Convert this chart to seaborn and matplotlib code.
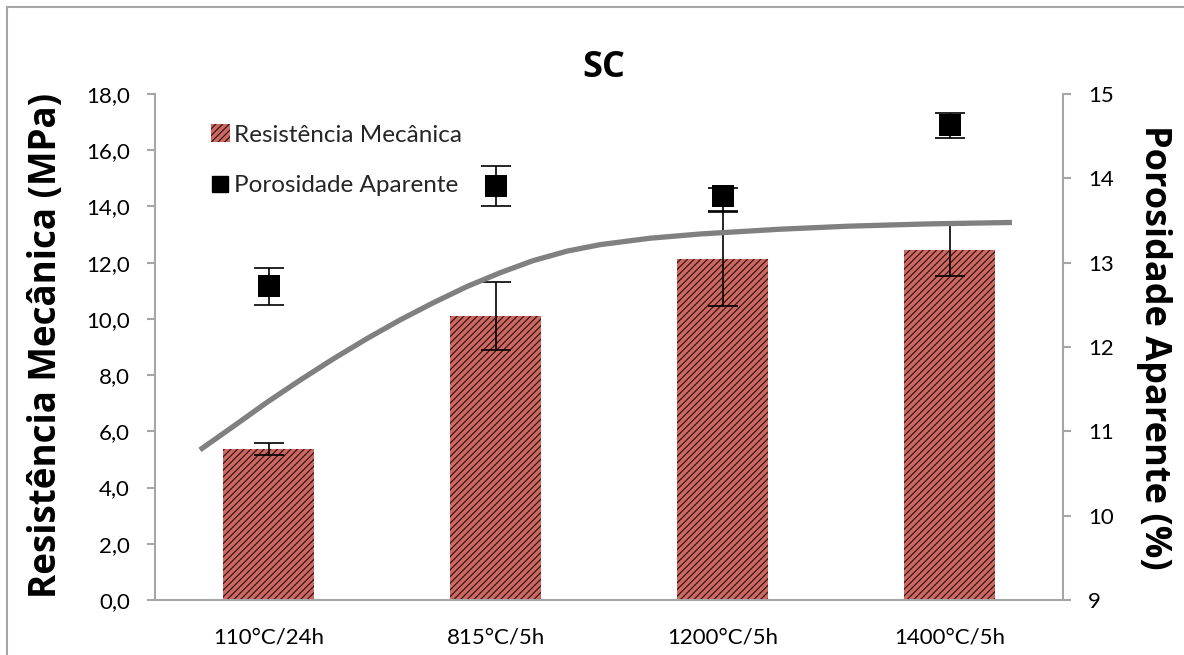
import matplotlib
matplotlib.use("Agg")
import matplotlib.pyplot as plt
from matplotlib.patches import Patch, Rectangle
from matplotlib.lines import Line2D
import seaborn as sns
import numpy as np

# ---- data -------------------------------------------------------------
categories = ["110°C/24h", "815°C/5h", "1200°C/5h", "1400°C/5h"]
resistencia = [5.38, 10.11, 12.14, 12.44]           # MPa
resistencia_err = [0.21, 1.20, 1.67, 0.90]
porosidade = [12.72, 13.91, 13.79, 14.63]           # %
porosidade_err_low = [0.22, 0.235, 0.18, 0.15]
porosidade_err_high = [0.22, 0.235, 0.10, 0.15]

# smoothed trend of the mechanical resistance (category position, MPa)
trend_x = [-0.302, -0.156, -0.007, 0.139, 0.284, 0.434, 0.579, 0.725, 0.874, 1.020,
           1.165, 1.315, 1.460, 1.681, 1.901, 2.253, 2.562, 2.914, 3.275]
trend_y = [5.34, 6.17, 7.03, 7.82, 8.57, 9.30, 9.96, 10.57, 11.15, 11.64,
           12.07, 12.41, 12.64, 12.87, 13.02, 13.19, 13.30, 13.38, 13.43]

left_ticks = [0, 2, 4, 6, 8, 10, 12, 14, 16, 18]
right_ticks = [9, 10, 11, 12, 13, 14, 15]

# ---- style ------------------------------------------------------------
sns.set_style("white")
plt.rcParams["font.family"] = ["Lato", "DejaVu Sans"]
plt.rcParams["hatch.linewidth"] = 0.85

BAR_COLOR = "#D4655F"
HATCH = "/////"
AXIS_GRAY = "#A6A6A6"
TEXT = "#000000"
LABEL_FONT = ["Open Sans", "DejaVu Sans"]

fig = plt.figure(figsize=(11.84, 6.55), dpi=100)
ax = fig.add_axes([155 / 1184, 1 - 600 / 655, 908 / 1184, 506 / 655])
positions = np.arange(len(categories))

# bars
sns.barplot(x=categories, y=resistencia, ax=ax, color=BAR_COLOR, saturation=1,
            width=0.4, hatch=HATCH, edgecolor="#1a1a1a", linewidth=0,
            errorbar=None, zorder=1)
ax.errorbar(positions, resistencia, yerr=resistencia_err, fmt="none",
            ecolor="black", elinewidth=1.2, capsize=11, capthick=1.2, zorder=2)

# trend line
sns.lineplot(x=trend_x, y=trend_y, ax=ax, color="#808080", linewidth=3.8,
             sort=False, zorder=3, solid_capstyle="butt")

ax.set_xlim(-0.5, 3.5)
ax.set_ylim(0, 18)
ax.set_yticks(left_ticks)
ax.set_yticklabels([f"{v:.1f}".replace(".", ",") for v in left_ticks])
ax.set_xticks(positions)
ax.set_xticklabels(categories)
ax.set_xticks(np.arange(-0.5, len(categories), 1.0), minor=True)
ax.tick_params(axis="x", which="major", length=0, pad=20, labelsize=16, colors=TEXT)
ax.tick_params(axis="x", which="minor", length=6, width=1.5, color=AXIS_GRAY, direction="out")
ax.tick_params(axis="y", length=6, width=1.5, color=AXIS_GRAY, direction="out",
               labelsize=16, labelcolor=TEXT, pad=12, left=True)
ax.set_ylabel("Resistência Mecânica (MPa)", fontsize=26.5, fontweight="bold", color=TEXT,
              family=LABEL_FONT, va="center")
ax.yaxis.set_label_coords(-0.120, 0.503)
ax.set_xlabel("")

for side in ("left", "bottom"):
    ax.spines[side].set_color(AXIS_GRAY)
    ax.spines[side].set_linewidth(1.5)
ax.spines["top"].set_visible(False)
ax.spines["right"].set_visible(False)

# porosity on the secondary axis
ax2 = ax.twinx()
ax2.errorbar(positions, porosidade, yerr=[porosidade_err_low, porosidade_err_high],
             fmt="none", ecolor="black", elinewidth=1.2, capsize=11, capthick=1.2, zorder=2)
sns.scatterplot(x=positions, y=porosidade, ax=ax2, marker="s", s=15.5 ** 2,
                color="black", edgecolor="black", linewidth=0, zorder=3)
ax2.set_ylim(9, 15)
ax2.set_yticks(right_ticks)
ax2.tick_params(axis="y", length=6, width=1.5, color=AXIS_GRAY, direction="out",
                labelsize=16, labelcolor=TEXT, pad=12, right=True)
ax2.set_ylabel("Porosidade Aparente (%)", fontsize=26, fontweight="bold", color=TEXT,
               rotation=-90, family=LABEL_FONT, va="center")
ax2.yaxis.set_label_coords(1.100, 0.499)
for side in ("left", "top", "bottom"):
    ax2.spines[side].set_visible(False)
ax2.spines["right"].set_color(AXIS_GRAY)
ax2.spines["right"].set_linewidth(1.5)

# legend
handles = [
    Patch(facecolor=BAR_COLOR, hatch=HATCH, edgecolor="#1a1a1a", linewidth=0),
    Line2D([], [], marker="s", linestyle="none", color="black", markersize=12),
]
ax2.legend(handles, ["Resistência Mecânica", "Porosidade Aparente"],
           loc="upper left", bbox_to_anchor=(0.062, 0.94), frameon=False,
           fontsize=17.5, handlelength=0.75, handleheight=0.75, handletextpad=0.2,
           labelspacing=1.2, borderpad=0, borderaxespad=0)

# title
fig.text(604 / 1184, 1 - 68 / 655, "SC", ha="center", va="center",
         fontsize=26, fontweight="bold", color=TEXT, family=LABEL_FONT)

# chart frame
fig.add_artist(Rectangle((7 / 1184, -0.2), 1.2, 1.2 - 6.5 / 655, transform=fig.transFigure,
                         fill=False, edgecolor=AXIS_GRAY, linewidth=1.5))

fig.savefig("out.png", dpi=100)
